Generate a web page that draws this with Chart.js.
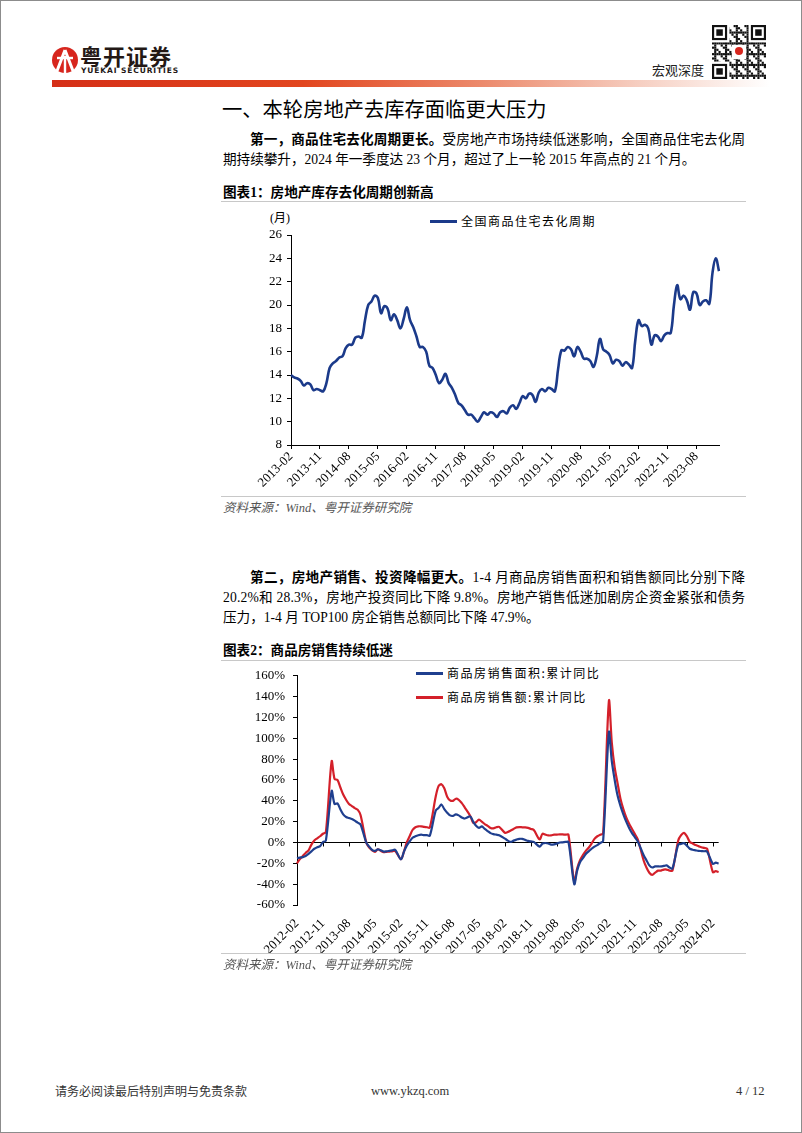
<!DOCTYPE html>
<html>
<head>
<meta charset="utf-8">
<script src="https://cdn.jsdelivr.net/npm/chart.js@4.4.1/dist/chart.umd.min.js"></script>
<style>
html, body { margin: 0; padding: 0; background: #fff; }
body { width: 802px; height: 1133px; position: relative; overflow: hidden;
       font-family: "Liberation Serif", "Noto Sans CJK SC", serif; color: #000; }
.frame { position: absolute; left: 0; top: 0; width: 800px; height: 1131px; border: 1px solid #8c8c8c; }
.abs { position: absolute; }
.line { position: absolute; left: 223px; width: 522px; font-size: 13.6px; line-height: 20px; white-space: nowrap; }
.ind { padding-left: 27px; width: 495px; }
.figtitle { position: absolute; left: 223px; font-size: 13.6px; font-weight: bold; line-height: 20px; }
.rule { position: absolute; left: 221px; width: 525px; height: 1px; background: #c8c8c8; }
.src { position: absolute; left: 223px; font-size: 12.5px; font-style: italic; color: #555; line-height: 16px; }
.legend { position: absolute; font-family: "Noto Sans CJK SC", sans-serif; font-size: 12px; letter-spacing: 1.5px;
          line-height: 16px; white-space: nowrap; }
.legend i { display: inline-block; width: 27px; height: 2.5px; vertical-align: middle; margin-right: 4px; position: relative; top: -1px; }
.foot { position: absolute; top: 1083px; font-size: 12px; color: #333; line-height: 16px; }
</style>
</head>
<body>
<div class="frame"></div>

<!-- header -->
<svg class="abs" style="left:50px;top:44px" width="30" height="32" viewBox="0 0 30 32">
  <circle cx="15" cy="16" r="13" fill="#d7261e"/>
  <path d="M15 6 L7 27 M15 6 L23 27" stroke="#fff" stroke-width="3" fill="none"/>
  <path d="M7 14 H23" stroke="#fff" stroke-width="2.4"/>
  <path d="M15 12 V30" stroke="#fff" stroke-width="2.4"/>
</svg>
<div class="abs" style="left:80px;top:42px;font-family:'Noto Sans CJK SC';font-weight:bold;font-size:22px;line-height:26px;color:#231815;letter-spacing:1px">粤开证券</div>
<div class="abs" style="left:81px;top:66px;font-family:'DejaVu Sans';font-weight:bold;font-size:7.5px;line-height:9px;color:#231815;letter-spacing:0.9px">YUEKAI SECURITIES</div>
<div class="abs" style="left:52px;top:80px;width:718px;height:7px;background:linear-gradient(to right,#d52f17 0%,#e2461f 35%,#ec8a6c 60%,#f6cfc2 82%,#ffffff 100%)"></div>
<div class="abs" style="left:652px;top:62px;font-family:'Noto Sans CJK SC';font-size:13px;line-height:16px;color:#222">宏观深度</div>
<canvas id="qr" class="abs" style="left:712px;top:25px" width="54" height="54"></canvas>

<!-- text -->
<div class="abs" style="left:222px;top:96px;font-family:'Noto Sans CJK SC';font-size:20.3px;line-height:24px">一、本轮房地产去库存面临更大压力</div>
<div class="line just ind" style="top:130px"><b>第一，商品住宅去化周期更长。</b>受房地产市场持续低迷影响，全国商品住宅去化周</div>
<div class="line" style="top:150px">期持续攀升，2024 年一季度达 23 个月，超过了上一轮 2015 年高点的 21 个月。</div>

<div class="figtitle" style="top:183px">图表1：房地产库存去化周期创新高</div>
<div class="rule" style="top:201px"></div>
<div class="abs" style="left:270px;top:210px;font-size:12px;line-height:16px;font-family:'Liberation Serif','Noto Sans CJK SC'">(月)</div>
<div class="legend" style="left:430px;top:213px"><i style="background:#1b3a8a"></i><span id="leg1a"></span></div>
<canvas id="chart1" class="abs" style="left:222px;top:210px" width="505" height="285"></canvas>
<div class="rule" style="top:496px"></div>
<div class="src" style="top:500px">资料来源：Wind、粤开证券研究院</div>

<div class="line just ind" style="top:568px"><b>第二，房地产销售、投资降幅更大。</b>1-4 月商品房销售面积和销售额同比分别下降</div>
<div class="line just" style="top:588px">20.2%和 28.3%，房地产投资同比下降 9.8%。房地产销售低迷加剧房企资金紧张和债务</div>
<div class="line" style="top:608px">压力，1-4 月 TOP100 房企销售总额同比下降 47.9%。</div>

<div class="figtitle" style="top:641px">图表2：商品房销售持续低迷</div>
<div class="rule" style="top:660px"></div>
<div class="legend" style="left:416px;top:665px"><i style="background:#1f3f8f"></i><span id="leg2a"></span></div>
<div class="legend" style="left:416px;top:689px"><i style="background:#d4202a"></i><span id="leg2b"></span></div>
<canvas id="chart2" class="abs" style="left:222px;top:660px" width="505" height="300"></canvas>
<div class="rule" style="top:953px"></div>
<div class="src" style="top:957px">资料来源：Wind、粤开证券研究院</div>

<div class="foot" style="left:55px;font-family:'Noto Sans CJK SC'">请务必阅读最后特别声明与免责条款</div>
<div class="foot" style="left:371px;font-size:12.5px">www.ykzq.com</div>
<div class="foot" style="left:736px;font-size:12.5px">4 / 12</div>

<script>
// ---- data ----
const seriesName1 = '全国商品住宅去化周期';
const startMonth1 = [2013, 2];
const cycle = [
  14.0, 13.8, 13.7, 13.5, 13.1, 13.3, 13.2, 12.7, 12.8, 12.7, 12.6, 13.3, 14.6, 15.0, 15.2, 15.5,
  15.6, 16.3, 16.6, 16.6, 17.2, 17.3, 17.2, 18.7, 20.0, 20.3, 20.8, 20.6, 19.3, 19.9, 19.7, 18.7,
  19.2, 18.7, 18.0, 18.8, 19.8, 18.7, 18.1, 17.3, 16.4, 16.4, 16.0, 14.8, 14.6, 14.0, 13.3, 13.6,
  14.1, 13.3, 12.9, 12.3, 11.6, 11.4, 11.0, 10.6, 10.6, 10.3, 10.0, 10.4, 10.8, 10.6, 10.8, 10.7,
  10.4, 10.8, 10.9, 10.7, 11.2, 11.4, 11.1, 11.6, 12.2, 12.0, 12.4, 12.3, 11.7, 12.5, 12.8, 12.6,
  12.9, 12.8, 12.6, 14.5, 16.1, 16.1, 16.4, 16.2, 15.6, 16.4, 16.0, 15.4, 15.4, 15.2, 14.7, 15.6,
  17.1, 16.2, 16.0, 15.7, 15.0, 15.3, 15.2, 14.8, 15.1, 14.9, 14.6, 17.0, 18.7, 18.2, 18.3, 18.0,
  16.6, 17.4, 17.3, 16.9, 17.4, 17.6, 17.6, 20.0, 21.7, 20.5, 20.8, 20.4, 19.6, 21.1, 21.0, 20.0,
  20.3, 20.4, 20.1, 22.8, 24.0, 22.9
];
const ticks1 = ['2013-02', '2013-11', '2014-08', '2015-05', '2016-02', '2016-11', '2017-08', '2018-05',
  '2019-02', '2019-11', '2020-08', '2021-05', '2022-02', '2022-11', '2023-08'];

const seriesNames2 = ['商品房销售面积:累计同比', '商品房销售额:累计同比'];
const startMonth2 = [2012, 2];
// no January figure is published for cumulative data, hence null
const areaYoy = [
  -15, -14.5, -14, -13, -11, -8.5, -6, -4.5, -3.5, 0.5, 1.8, null,
  49.5, 37, 37.5, 32, 27, 24.5, 23.5, 22.5, 21, 19, 17.3, null,
  -0.1, -4, -7, -8, -6.5, -7.5, -8.7, -8.5, -8, -7.5, -7, null,
  -16.3, -9, -3, 1, 4.5, 6, 7, 7.5, 7, 7, 6.5, null,
  30.4, 33.1, 36.5, 32, 28.6, 26, 25.5, 27, 26, 24, 23, null,
  25, 20, 16, 14, 15.5, 13, 11, 9, 8, 7.5, 7, null,
  3.7, 1.8, 0.6, 1.8, 2.8, 3.5, 3.5, 2.5, 1.5, 1, 0.6, null,
  -4, -1, -0.5, -1, -2, -1.8, -1, 0, 0.2, 0.5, 0.5, null,
  -40, -27, -19, -15, -11, -8.5, -6, -4, -2.5, -0.5, 1.5, null,
  106, 78, 60, 45, 35, 27, 20, 14, 9, 5, 1, null,
  -12, -17, -22, -24, -23, -23, -23, -22.5, -22, -24, -25, null,
  -2, -1.5, -0.6, -3, -6, -7, -7.5, -8, -8.2, -8.4, -8.7, null,
  -20.5, -19.4, -20.2
];
const amountYoy = [
  -20, -16, -13, -10, -7.5, -2, 2, 4, 6, 8.4, 10, null,
  78, 61, 60, 53, 46, 41, 37, 35, 33, 31.5, 26.3, null,
  -0.1, -5, -7.5, -9, -6.5, -8, -9.3, -9, -8.7, -8.5, -8, null,
  -16, -9, 0, 6, 12, 14.6, 15.5, 15.5, 15, 14.6, 14.4, null,
  43.6, 54.1, 55.9, 52, 44, 40.5, 40, 42, 41, 38, 34, null,
  25.5, 19, 19.5, 22, 20, 17.7, 16, 14, 13.5, 14.6, 15, null,
  9.3, 10, 11.5, 13, 14.5, 14.8, 14.6, 14.5, 14, 13, 12, null,
  3, 8.4, 7.5, 6.8, 6.8, 7.5, 7.6, 7.8, 7.7, 7.5, 7.5, null,
  -38, -25, -17, -12, -8, -5, -1, 3.5, 6, 7.5, 8.5, null,
  136, 96, 72, 57, 42, 32, 24, 18, 13, 8, 3, null,
  -17, -24, -29, -31, -29, -27, -27, -26, -26, -27, -27, null,
  2, 7, 9.3, 6, 0.5, -1, -2.5, -3.5, -4.5, -5.2, -6, null,
  -28.5, -27.5, -28.3
];
const ticks2 = ['2012-02', '2012-11', '2013-08', '2014-05', '2015-02', '2015-11', '2016-08', '2017-05',
  '2018-02', '2018-11', '2019-08', '2020-05', '2021-02', '2021-11', '2022-08', '2023-05', '2024-02'];

// month labels for the category axis
function monthLabels(start, n) {
  const out = [];
  let y = start[0], m = start[1];
  for (let i = 0; i < n; i++) {
    out.push(y + '-' + String(m).padStart(2, '0'));
    m++;
    if (m > 12) { m = 1; y++; }
  }
  return out;
}
const categories1 = monthLabels(startMonth1, cycle.length);
const categories2 = monthLabels(startMonth2, areaYoy.length);

document.getElementById('leg1a').textContent = seriesName1;
document.getElementById('leg2a').textContent = seriesNames2[0];
document.getElementById('leg2b').textContent = seriesNames2[1];

// stretch or squeeze the full-width text lines so both edges line up
document.querySelectorAll('.just').forEach(el => {
  const r = document.createRange();
  r.selectNodeContents(el);
  const natural = r.getBoundingClientRect().width;
  const avail = el.clientWidth - parseFloat(getComputedStyle(el).paddingLeft);
  const n = el.textContent.length;
  el.style.letterSpacing = ((avail - natural) / (n - 1)) + 'px';
});

// ---- decorative qr block ----
(function () {
  const c = document.getElementById('qr').getContext('2d');
  const n = 25, s = 54 / n;
  c.fillStyle = '#fff'; c.fillRect(0, 0, 54, 54);
  c.fillStyle = '#111';
  for (let i = 0; i < n; i++) {
    for (let j = 0; j < n; j++) {
      if ((i * 7 + j * 11 + i * j * 3) % 5 < 2) c.fillRect(j * s, i * s, s, s);
    }
  }
  [[0, 0], [0, n - 7], [n - 7, 0]].forEach(p => {
    c.fillStyle = '#fff'; c.fillRect(p[1] * s - s, p[0] * s - s, 9 * s, 9 * s);
    c.fillStyle = '#111'; c.fillRect(p[1] * s, p[0] * s, 7 * s, 7 * s);
    c.fillStyle = '#fff'; c.fillRect((p[1] + 1) * s, (p[0] + 1) * s, 5 * s, 5 * s);
    c.fillStyle = '#111'; c.fillRect((p[1] + 2) * s, (p[0] + 2) * s, 3 * s, 3 * s);
  });
  c.fillStyle = '#fff'; c.fillRect(20, 20, 14, 14);
  c.fillStyle = '#d7261e'; c.beginPath(); c.arc(27, 26, 4, 0, Math.PI * 2); c.fill();
})();

// ---- charts ----
Chart.defaults.animation = false;
Chart.defaults.color = '#000';
const serif = { family: "'Liberation Serif', 'Times New Roman', serif", size: 13 };

function pickTick(list) {
  return function (v) {
    const l = this.getLabelForValue(v);
    return list.includes(l) ? l : null;
  };
}

// x axis of chart 2 crosses at 0, labels stay at the bottom
const zeroAxis = {
  id: 'zeroAxis',
  beforeDatasetsDraw(chart) {
    const { ctx, chartArea, scales: { x, y } } = chart;
    const y0 = Math.round(y.getPixelForValue(0)) + 0.5;
    ctx.save();
    ctx.strokeStyle = '#000';
    ctx.lineWidth = 1;
    ctx.beginPath();
    ctx.moveTo(chartArea.left, y0);
    ctx.lineTo(chartArea.right, y0);
    x.ticks.forEach((t, i) => {
      if (t.label == null) return;
      const px = Math.round(x.getPixelForTick(i)) + 0.5;
      ctx.moveTo(px, y0);
      ctx.lineTo(px, y0 + 4);
    });
    ctx.stroke();
    ctx.restore();
  }
};

new Chart(document.getElementById('chart1'), {
  type: 'line',
  data: {
    labels: categories1,
    datasets: [{
      label: seriesName1,
      data: cycle,
      borderColor: '#1b3a8a',
      borderWidth: 2.6,
      pointRadius: 0,
      tension: 0.4
    }]
  },
  options: {
    responsive: false,
    layout: { padding: { top: 25, right: 8, left: 0, bottom: 0 } },
    plugins: { legend: { display: false }, tooltip: { enabled: false } },
    scales: {
      x: {
        grid: { drawOnChartArea: false, tickLength: 4, color: '#000' },
        border: { color: '#000' },
        ticks: { autoSkip: false, minRotation: 45, maxRotation: 45, padding: 0, font: serif,
                 callback: pickTick(ticks1) },
        afterFit(s) { s.height = 50; }
      },
      y: {
        min: 8, max: 26,
        grid: { drawOnChartArea: false, tickLength: 4, color: '#000' },
        border: { color: '#000' },
        ticks: { stepSize: 2, padding: 5, font: serif },
        afterFit(s) { s.width = 69; }
      }
    }
  }
});

new Chart(document.getElementById('chart2'), {
  type: 'line',
  data: {
    labels: categories2,
    datasets: [{
      label: seriesNames2[0],
      data: areaYoy,
      borderColor: '#1f3f8f',
      borderWidth: 2.2,
      pointRadius: 0,
      spanGaps: true,
      tension: 0.3
    }, {
      label: seriesNames2[1],
      data: amountYoy,
      borderColor: '#d4202a',
      borderWidth: 2.2,
      pointRadius: 0,
      spanGaps: true,
      tension: 0.3
    }]
  },
  options: {
    responsive: false,
    layout: { padding: { top: 9, right: 7, left: 0, bottom: 0 } },
    plugins: { legend: { display: false }, tooltip: { enabled: false } },
    scales: {
      x: {
        grid: { display: false },
        border: { display: false },
        ticks: { autoSkip: false, minRotation: 45, maxRotation: 45, padding: 3, font: serif,
                 callback: pickTick(ticks2) },
        afterFit(s) { s.height = 55; }
      },
      y: {
        min: -60, max: 160,
        grid: { drawOnChartArea: false, tickLength: 4, color: '#000' },
        border: { color: '#000' },
        ticks: { stepSize: 20, padding: 8, font: serif, callback: v => v + '%' },
        afterFit(s) { s.width = 75; }
      }
    }
  },
  plugins: [zeroAxis]
});
</script>
</body>
</html>
